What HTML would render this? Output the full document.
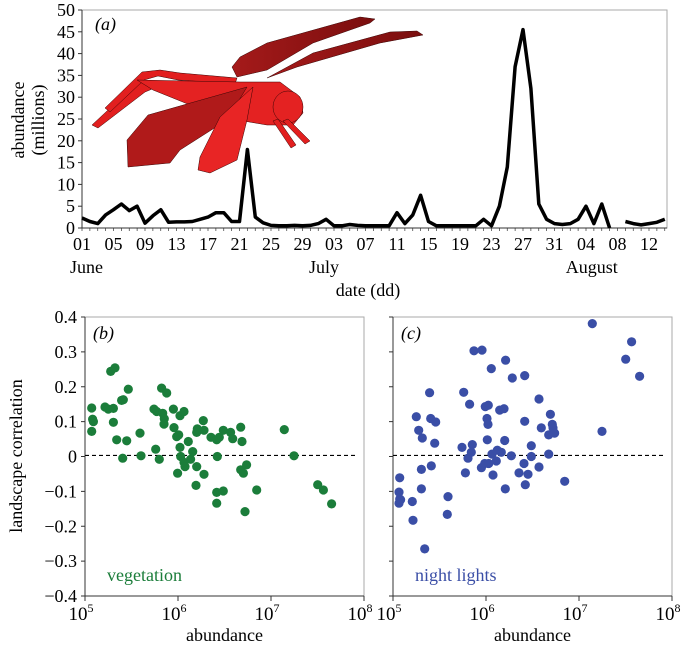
<!DOCTYPE html>
<html><head><meta charset="utf-8">
<style>
html,body{margin:0;padding:0;background:#fff;}
svg{display:block;font-family:"Liberation Serif",serif;}
</style></head>
<body>
<svg id="fig" width="682" height="645" viewBox="0 0 682 645" xmlns="http://www.w3.org/2000/svg">
  <defs>
    <linearGradient id="wingGrad" x1="0" y1="0" x2="1" y2="0">
      <stop offset="0" stop-color="#a51a1a"/><stop offset="1" stop-color="#7a0e0e"/>
    </linearGradient>
  </defs>
  <g id="top"></g>
  <g id="insect" stroke="#3a0505" stroke-width="0.5" stroke-linejoin="round">
    <polygon points="232,67 240,57 267,43 360,17 375,19 370,23 313,43 267,70 237,77" fill="url(#wingGrad)"/>
    <polygon points="267,78 313,53 390,32 417,31 423,35 380,43 297,67" fill="url(#wingGrad)"/>
    <polygon points="92,125 138,82 157,87 145,92 98,128" fill="#e21f1f"/>
    <polygon points="105,108 142,72 160,70 180,73 237,78 235,84 178,80 158,76 144,80 110,112" fill="#e21f1f"/>
    <polygon points="137,80 240,82 280,82 300,97 303,113 293,125 267,125 220,117 153,90" fill="#e42222"/>
    <polygon points="128,167 127,140 148,115 247,87 227,120 180,150 170,163" fill="#b01a1a"/>
    <polygon points="198,170 200,157 220,117 253,87 247,120 237,160 210,173" fill="#e82525"/>
    <ellipse cx="288" cy="107" rx="15" ry="16" fill="#e42222"/>
    <polygon points="273,121 278,119 296,145 291,148" fill="#e21f1f"/>
    <polygon points="283,121 288,119 310,141 305,144" fill="#e21f1f"/>
  </g>
  <g id="panelB"></g>
  <g id="panelC"></g>
</svg>
<script>
// ---- Panel (a) data ----
const dayIndex = [];
for (let i = 0; i <= 74; i++) dayIndex.push(i);
const abundanceMillions = [2.3,1.5,1.0,3.0,4.2,5.5,4.0,5.0,1.1,2.8,4.2,1.3,1.4,1.4,1.5,2.0,2.5,3.5,3.5,1.5,1.5,18,2.5,1.2,0.6,0.5,0.5,0.6,0.5,0.6,1.0,2.0,0.5,0.5,0.8,0.6,0.5,0.5,0.5,0.5,3.5,1.0,3.0,7.5,1.5,0.5,0.5,0.5,0.5,0.5,0.5,2.0,0.5,5.0,14,37,45.5,32,5.5,2.0,1.0,0.8,1.0,2.0,5.0,1.0,5.5,0.0,null,1.5,1.0,0.7,1.0,1.3,2.0];
const yTicksA = [0,5,10,15,20,25,30,35,40,45,50];
const xTickDays = [0,4,8,12,16,20,24,28,32,36,40,44,48,52,56,60,64,68,72];
const xTickLabels = ["01","05","09","13","17","21","25","29","03","07","11","15","19","23","27","31","04","08","12"];
const monthLabels = ["June","July","August"];
const monthDays = [0,32,66];

// ---- Panel (b) data ----
const vegLogAbund = [5.072,5.082,5.090,5.072,5.215,5.251,5.305,5.276,5.323,5.305,5.341,5.394,5.412,5.466,5.448,5.405,5.591,5.602,5.742,5.771,5.760,5.799,5.824,5.878,5.835,5.853,5.849,5.950,5.957,5.986,5.996,6.007,6.022,6.065,6.022,6.029,6.065,6.075,6.111,6.136,6.158,6.201,6.208,6.201,6.194,6.272,6.280,6.280,6.355,6.416,6.423,6.416,6.416,6.444,6.487,6.487,6.566,6.588,6.674,6.688,6.674,6.703,6.738,6.720,6.846,7.143,7.247,7.502,7.563,7.652];
const vegCorr = [0.139,0.107,0.100,0.072,0.142,0.136,0.138,0.244,0.254,0.098,0.048,0.161,0.163,0.193,0.045,-0.005,0.067,0.002,0.136,0.129,0.021,-0.008,0.196,0.182,0.124,0.108,0.093,0.136,0.083,0.057,-0.048,0.062,0.117,0.129,0.026,0.000,-0.017,-0.029,0.043,-0.008,0.014,0.069,0.079,-0.029,-0.083,0.103,0.075,-0.051,0.055,0.048,0.000,-0.103,-0.134,0.055,0.075,-0.099,0.069,0.051,0.084,0.043,-0.038,-0.048,-0.024,-0.158,-0.096,0.077,0.002,-0.081,-0.096,-0.136];

// ---- Panel (c) data ----
const lightLogAbund = [5.072,5.065,5.072,5.065,5.082,5.208,5.215,5.251,5.276,5.305,5.305,5.315,5.341,5.394,5.405,5.412,5.448,5.459,5.591,5.584,5.742,5.760,5.778,5.806,5.824,5.842,5.853,5.871,5.957,5.950,5.986,5.993,6.014,6.011,6.022,6.025,6.029,6.057,6.065,6.075,6.111,6.122,6.147,6.165,6.194,6.201,6.211,6.208,6.272,6.283,6.355,6.409,6.416,6.416,6.423,6.452,6.487,6.487,6.570,6.570,6.595,6.674,6.674,6.692,6.713,6.720,6.738,6.846,7.143,7.247,7.502,7.566,7.652];
const lightCorr = [-0.061,-0.102,-0.122,-0.134,-0.124,-0.129,-0.183,0.114,0.075,-0.037,-0.093,0.053,-0.265,0.183,0.109,-0.027,0.038,0.099,-0.115,-0.166,0.026,0.184,-0.047,-0.005,0.150,0.012,0.034,0.303,0.305,-0.032,-0.020,0.143,0.048,0.109,0.092,0.147,-0.020,0.252,0.007,-0.053,-0.013,0.018,0.133,0.012,0.137,0.046,0.276,-0.093,0.002,0.225,-0.047,-0.020,0.232,0.101,-0.081,-0.051,0.031,0.000,0.165,-0.030,0.082,0.007,0.062,0.121,0.092,0.082,0.067,-0.071,0.381,0.072,0.279,0.329,0.230];
const yTicksBC = [-0.4,-0.3,-0.2,-0.1,0,0.1,0.2,0.3,0.4];
const yTickLabelsBC = ["−0.4","−0.3","−0.2","−0.1","0","0.1","0.2","0.3","0.4"];
const xDecades = [5,6,7,8];

const NS = "http://www.w3.org/2000/svg";
function mk(parent, tag, attrs, text) {
  const e = document.createElementNS(NS, tag);
  for (const k in attrs) e.setAttribute(k, attrs[k]);
  if (text !== undefined) e.textContent = text;
  parent.appendChild(e);
  return e;
}

// ===== Panel (a) =====
(function(){
  const g = document.getElementById('top');
  const L = 82, R = 667, T = 10, B = 228;
  const xA = d => L + d * 7.875;
  const yA = v => B - v * (B - T) / 50;
  const frame = mk(g, 'rect', {x:L, y:T, width:R-L, height:B-T, fill:'none', stroke:'#aaa', 'stroke-width':1});
  
  
  mk(g, 'line', {x1:L, y1:B, x2:R, y2:B, stroke:'#333', 'stroke-width':1});
  mk(g, 'line', {x1:L, y1:T, x2:L, y2:B, stroke:'#333', 'stroke-width':1});
  yTicksA.forEach(v => {
    mk(g, 'line', {x1:L-4, y1:yA(v), x2:L, y2:yA(v), stroke:'#333'});
    const t = mk(g, 'text', {x:L-7, y:yA(v)+6, 'text-anchor':'end', 'font-size':18}, String(v));
    
    
  });
  for (let d = 0; d <= 74; d++) mk(g, 'line', {x1:xA(d), y1:B, x2:xA(d), y2:B+3, stroke:'#333', 'stroke-width':0.7});
  xTickDays.forEach((d, i) => {
    const t = mk(g, 'text', {x:xA(d), y:250, 'text-anchor':'middle', 'font-size':18}, xTickLabels[i]);
    
    
  });
  monthDays.forEach((d, i) => {
    const t = mk(g, 'text', {x: i===0 ? 70 : xA(d)-10, y:273, 'text-anchor': i===0 ? 'start' : 'middle', 'font-size':18}, monthLabels[i]);
    
    
  });
  const xt = mk(g, 'text', {x:368, y:296, 'text-anchor':'middle', 'font-size':18}, 'date (dd)');
  
  
  const yt = mk(g, 'text', {transform:'translate(24,120) rotate(-90)', 'text-anchor':'middle', 'font-size':18});
  
  
  mk(yt, 'tspan', {x:0, y:0}, 'abundance');
  mk(yt, 'tspan', {x:0, y:20}, '(millions)');
  const lab = mk(g, 'text', {x:95, y:30, 'font-size':18, 'font-style':'italic'}, '(a)');
  
  
  let segs = [], cur = [];
  dayIndex.forEach((d, i) => {
    const v = abundanceMillions[i];
    if (v === null) { if (cur.length) segs.push(cur); cur = []; }
    else cur.push(xA(d).toFixed(1) + ',' + yA(v).toFixed(1));
  });
  if (cur.length) segs.push(cur);
  segs.forEach(s => {
    const p = mk(g, 'polyline', {points:s.join(' '), fill:'none', stroke:'#000', 'stroke-width':3.5, 'stroke-linejoin':'round'});
    
    
  });
})();

// ===== Panels (b) and (c) =====
function scatter(gid, L, R, xs, ys, color, label, legend, showYLabels) {
  const g = document.getElementById(gid);
  const T = 317, B = 596;
  const xS = lx => L + (lx - 5) * (R - L) / 3;
  const yS = v => T + (0.4 - v) * (B - T) / 0.8;
  mk(g, 'rect', {x:L, y:T, width:R-L, height:B-T, fill:'none', stroke:'#aaa', 'stroke-width':1});
  mk(g, 'line', {x1:L, y1:T, x2:L, y2:B, stroke:'#333'});
  mk(g, 'line', {x1:L, y1:B, x2:R, y2:B, stroke:'#333'});
  yTicksBC.forEach((v, i) => {
    mk(g, 'line', {x1:L-4, y1:yS(v), x2:L, y2:yS(v), stroke:'#333'});
    if (showYLabels) {
      const t = mk(g, 'text', {x:L-8, y:yS(v)+6, 'text-anchor':'end', 'font-size':18}, yTickLabelsBC[i]);
      
      
    }
  });
  xDecades.forEach(d => {
    mk(g, 'line', {x1:xS(d), y1:B, x2:xS(d), y2:B+5, stroke:'#333'});
    const t = mk(g, 'text', {x:xS(d)-4, y:620, 'text-anchor':'middle', 'font-size':19});
    
    
    mk(t, 'tspan', {}, '10');
    mk(t, 'tspan', {dy:-8, 'font-size':12}, String(d));
  });
  const dl = mk(g, 'line', {x1:L, y1:yS(0.003), x2:R-8, y2:yS(0.003), stroke:'#000', 'stroke-width':1.2, 'stroke-dasharray':'4,3'});
  
  
  xs.forEach((lx, i) => {
    const c = mk(g, 'circle', {cx:xS(lx).toFixed(1), cy:yS(ys[i]).toFixed(1), r:4.6, fill:color});
    
    
  });
  const pl = mk(g, 'text', {x:L+8, y:T+22, 'font-size':18, 'font-style':'italic'}, label);
  
  
  const lg = mk(g, 'text', {x:L+22, y:581, 'font-size':18, fill:color}, legend);
  
  
  const xt = mk(g, 'text', {x:(L+R)/2, y:641, 'text-anchor':'middle', 'font-size':18}, 'abundance');
  
  
}
scatter('panelB', 85, 364, vegLogAbund, vegCorr, '#1b7d3a', '(b)', 'vegetation', true);
scatter('panelC', 393, 672, lightLogAbund, lightCorr, '#3a4ea6', '(c)', 'night lights', false);
const yt2 = document.createElementNS(NS, 'text');
yt2.setAttribute('transform', 'translate(22,456) rotate(-90)');
yt2.setAttribute('text-anchor', 'middle');
yt2.setAttribute('font-size', '18');
yt2.textContent = 'landscape correlation';


document.getElementById('panelB').appendChild(yt2);
</script>
</body></html>
